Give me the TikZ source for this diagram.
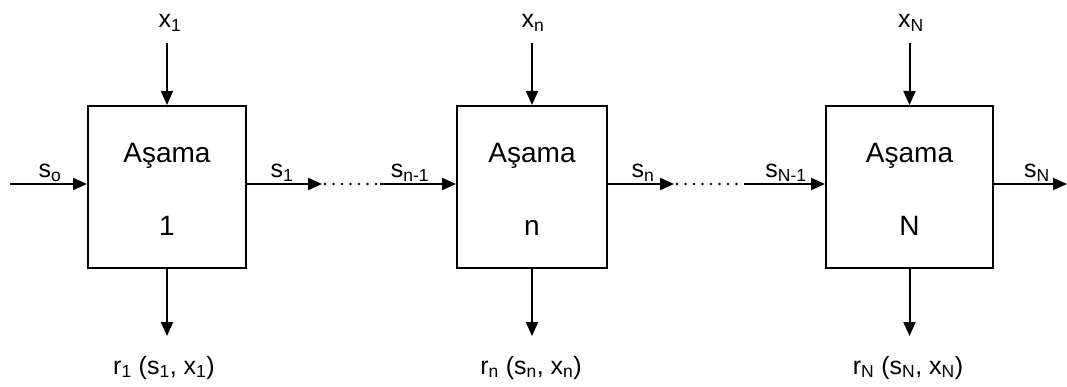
\documentclass[tikz,border=0pt]{standalone}
\usepackage{fontspec}
\setmainfont{Liberation Sans}
\usetikzlibrary{arrows.meta}
\begin{document}
\begin{tikzpicture}[x=1pt,y=-1pt, line width=2pt,
  box/.style={draw, minimum height=162pt, inner sep=0pt},
  arr/.style={-{Triangle[length=14pt,width=12pt]}},
  dots/.style={line width=2.8pt, line cap=round, dash pattern=on 0pt off 8.5pt},
  lab/.style={font=\fontsize{25}{28}\selectfont, inner sep=0pt, anchor=base},
  big/.style={font=\fontsize{28}{31}\selectfont, inner sep=0pt, anchor=base}]
\useasboundingbox (0,0) rectangle (1067,387);
% boxes
\node[box, minimum width=158pt] (b1) at (167,187) {};
\node[box, minimum width=150pt] (b2) at (532,187) {};
\node[box, minimum width=167pt] (b3) at (909.5,187) {};
% box texts
\node[big] (t1) at (167,163) {Aşama};
\node[big] (n1) at (167,236) {1};
\node[big] (t2) at (532,163) {Aşama};
\node[big] (n2) at (532,236) {n};
\node[big] (t3) at (909.5,163) {Aşama};
\node[big] (n3) at (909.5,236) {N};
% top inputs
\node[lab] (x1) at (170,28) {x\textsubscript{1}};
\node[lab] (x2) at (533,28) {x\textsubscript{n}};
\node[lab] (x3) at (911,28) {x\textsubscript{N}};
\coordinate (x1s) at (167,43);
\coordinate (x2s) at (532,43);
\coordinate (x3s) at (909.5,43);
\draw[arr] (x1s) -- (b1.north);
\draw[arr] (x2s) -- (b2.north);
\draw[arr] (x3s) -- (b3.north);
% bottom outputs
\coordinate (r1e) at (167,336);
\coordinate (r2e) at (532,336);
\coordinate (r3e) at (909.5,336);
\draw[arr] (b1.south) -- (r1e);
\draw[arr] (b2.south) -- (r2e);
\draw[arr] (b3.south) -- (r3e);
\node[lab] (r1) at (164,374) {r\textsubscript{1} (s\textsubscript{1}, x\textsubscript{1})};
\node[lab] (r2) at (531,374) {r\textsubscript{n} (s\textsubscript{n}, x\textsubscript{n})};
\node[lab] (r3) at (908,374) {r\textsubscript{N} (s\textsubscript{N}, x\textsubscript{N})};
% horizontal chain
\coordinate (s0) at (10,184);
\coordinate (d1a) at (322,184);
\coordinate (d1b) at (380,184);
\coordinate (d2a) at (674,184);
\coordinate (d2b) at (744,184);
\coordinate (sNe) at (1067,184);
\draw[arr] (s0) -- (s0 -| b1.west);
\draw[arr] (s0 -| b1.east) -- (d1a);
\draw[dots] (d1a) ++(3,0) -- (d1b);
\draw[arr] (d1b) -- (d1b -| b2.west);
\draw[arr] (s0 -| b2.east) -- (d2a);
\draw[dots] (d2a) ++(3,0) -- (d2b);
\draw[arr] (d2b) -- (d2b -| b3.west);
\draw[arr] (s0 -| b3.east) -- (sNe);
% chain labels
\node[lab] (ls0) at (50,178) {s\textsubscript{o}};
\node[lab] (ls1) at (282,178) {s\textsubscript{1}};
\node[lab] (ls2) at (410,178) {s\textsubscript{n-1}};
\node[lab] (ls3) at (643,178) {s\textsubscript{n}};
\node[lab] (ls4) at (786,178) {s\textsubscript{N-1}};
\node[lab] (ls5) at (1037,178) {s\textsubscript{N}};
\end{tikzpicture}
\end{document}
